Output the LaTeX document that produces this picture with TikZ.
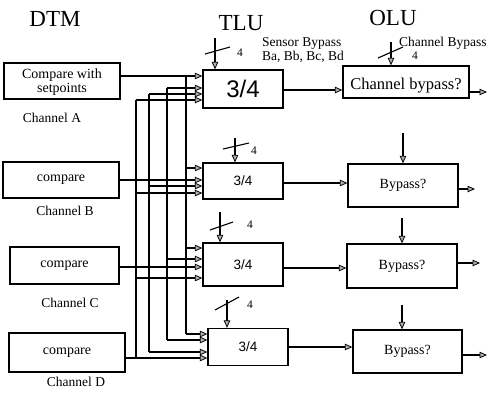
\documentclass[tikz,border=0pt]{standalone}
\usepackage{fontspec}
\setmainfont{Liberation Serif}
\newfontfamily\lsans{Liberation Sans}
\usetikzlibrary{arrows.meta}
\newcommand{\fs}[1]{\fontsize{#1}{#1}\selectfont}
\begin{document}
\begin{tikzpicture}[x=1pt,y=-1pt,
  box/.style={draw,line width=1.3pt,inner sep=0pt,align=center},
  wire/.style={line width=1.1pt},
  arr/.style={wire,-{Triangle[length=7.5pt,width=6.5pt,fill=gray!60,line width=0.8pt]}},
  title/.style={font=\fs{23}},
  lbl/.style={font=\fs{13.5}},
  four/.style={font=\fs{11.5}},
  slash/.style={line width=1.1pt}]
\useasboundingbox (0,0) rectangle (489,392);

% titles
\node[title] (tDTM) at (55,19) {DTM};
\node[title] (tTLU) at (241,23) {TLU};
\node[title] (tOLU) at (393,18) {OLU};

% DTM boxes
\node[box,minimum width=116pt,minimum height=36pt,font=\fs{14},text depth=0pt] (cA) at (62,81) {\fontsize{14}{18}\selectfont Compare with\\setpoints};
\node[box,minimum width=116pt,minimum height=36pt,font=\fs{14}] (cB) at (61,180) {compare};
\node[box,minimum width=109pt,minimum height=37pt,font=\fs{14}] (cC) at (64.5,265.5) {compare};
\node[box,minimum width=116pt,minimum height=39pt,font=\fs{14}] (cD) at (67,352.5) {compare};
\node[lbl] (lA) at (52,118) {Channel A};
\node[lbl] (lB) at (65,211) {Channel B};
\node[lbl] (lC) at (70,303) {Channel C};
\node[lbl] (lD) at (76,382) {Channel D};

% TLU boxes
\node[box,minimum width=80pt,minimum height=38pt,font=\lsans\fs{24}] (tA) at (243,89) {3/4};
\node[box,minimum width=80pt,minimum height=36pt,font=\lsans\fs{13.5}] (tB) at (243,181) {3/4};
\node[box,minimum width=80pt,minimum height=43pt,font=\lsans\fs{13.5}] (tC) at (243,264.5) {3/4};
\node[box,minimum width=80pt,minimum height=37pt,font=\lsans\fs{13.5}] (tD) at (248,347) {3/4};

% OLU boxes
\node[box,minimum width=126pt,minimum height=32pt] (oA) at (406,82) {};
\node[font=\fs{16.5}] (oAt) at (406,86) {Channel bypass?};
\node[box,minimum width=110pt,minimum height=43pt,font=\fs{14}] (oB) at (403,185.5) {Bypass?};
\node[box,minimum width=110pt,minimum height=44pt,font=\fs{14}] (oC) at (402,266) {Bypass?};
\node[box,minimum width=109pt,minimum height=43pt,font=\fs{14}] (oD) at (407.5,351.5) {Bypass?};

% bus columns
\coordinate (a0) at (186,76);  \coordinate (a1) at (186,334);
\coordinate (b0) at (167,88);  \coordinate (b1) at (167,340);
\coordinate (c0) at (149,94);  \coordinate (c1) at (149,352);
\coordinate (d0) at (136,100); \coordinate (d1) at (136,358);
\draw[wire] (a0) -- (a1);
\draw[wire] (b0) -- (b1);
\draw[wire] (c0) -- (c1);
\draw[wire] (d0) -- (d1);

% channel outputs
\draw[arr] (cA.east |- a0) -- (a0 -| tA.west);
\draw[arr] (cB.east) -- (cB.east -| tB.west);
\coordinate (cCy) at (120,267);
\draw[arr] (cC.east |- cCy) -- (cCy -| tC.west);
\draw[arr] (cD.east |- d1) -- (d1 -| tD.west);

% taps into TLU A
\draw[arr] (b0) -- (b0 -| tA.west);
\draw[arr] (c0) -- (c0 -| tA.west);
\draw[arr] (d0) -- (d0 -| tA.west);
% taps into TLU B
\coordinate (aB) at (186,168); \draw[arr] (aB) -- (aB -| tB.west);
\coordinate (cB2) at (149,186); \draw[arr] (cB2) -- (cB2 -| tB.west);
\coordinate (dB) at (136,193); \draw[arr] (dB) -- (dB -| tB.west);
% taps into TLU C
\coordinate (aC) at (186,248); \draw[arr] (aC) -- (aC -| tC.west);
\coordinate (bC) at (167,259); \draw[arr] (bC) -- (bC -| tC.west);
\coordinate (dC) at (136,278); \draw[arr] (dC) -- (dC -| tC.west);
% taps into TLU D
\draw[arr] (a1) -- (a1 -| tD.west);
\draw[arr] (b1) -- (b1 -| tD.west);
\draw[arr] (c1) -- (c1 -| tD.west);

% TLU -> OLU
\draw[arr] (tA.east |- 0,90) -- (oA.west |- 0,90);
\draw[arr] (tB.east |- 0,183) -- (oB.west |- 0,183);
\draw[arr] (tC.east |- 0,268) -- (oC.west |- 0,268);
\draw[arr] (tD.east) -- (tD.east -| oD.west);

% OLU outputs
\coordinate (outA) at (487,92);  \draw[arr] (oA.east |- outA) -- (outA);
\coordinate (outB) at (475,189); \draw[arr] (oB.east |- outB) -- (outB);
\coordinate (outC) at (480,263); \draw[arr] (oC.east |- outC) -- (outC);
\coordinate (outD) at (487,355); \draw[arr] (oD.east |- outD) -- (outD);

% vertical arrows into OLU B-D
\coordinate (vB) at (403,133); \draw[arr] (vB) -- (vB |- oB.north);
\coordinate (vC) at (402,218); \draw[arr] (vC) -- (vC |- oC.north);
\coordinate (vD) at (402,305); \draw[arr] (vD) -- (vD |- oD.north);

% channel bypass bus into OLU A
\coordinate (cbp) at (391,42); \draw[arr] (cbp) -- (cbp |- oA.north);
\draw[slash] (378,58) -- (403,47);
\node[four] (f0) at (415,56) {4};
\node[lbl,anchor=west,inner sep=0pt] (cbt) at (399,43) {Channel Bypass};

% sensor bypass buses into TLUs
\node[lbl,anchor=west,inner sep=0pt,align=left] (sbt) at (262,50) {\fontsize{13.5}{15.5}\selectfont Sensor Bypass\\Ba, Bb, Bc, Bd};
\coordinate (sA) at (215,38);  \draw[arr] (sA) -- (sA |- tA.north);
\draw[slash] (205,54) -- (230,47);
\node[four] (f1) at (240,53) {4};
\coordinate (sB) at (235,138); \draw[arr] (sB) -- (sB |- tB.north);
\draw[slash] (223,149) -- (249,143);
\node[four] (f2) at (254,151) {4};
\coordinate (sC) at (220,212); \draw[arr] (sC) -- (sC |- tC.north);
\draw[slash] (210,230) -- (233,222);
\node[four] (f3) at (250,225) {4};
\coordinate (sD) at (227,300); \draw[arr] (sD) -- (sD |- tD.north);
\draw[slash] (215,310) -- (239,297);
\node[four] (f4) at (250,305) {4};
\end{tikzpicture}
\end{document}
